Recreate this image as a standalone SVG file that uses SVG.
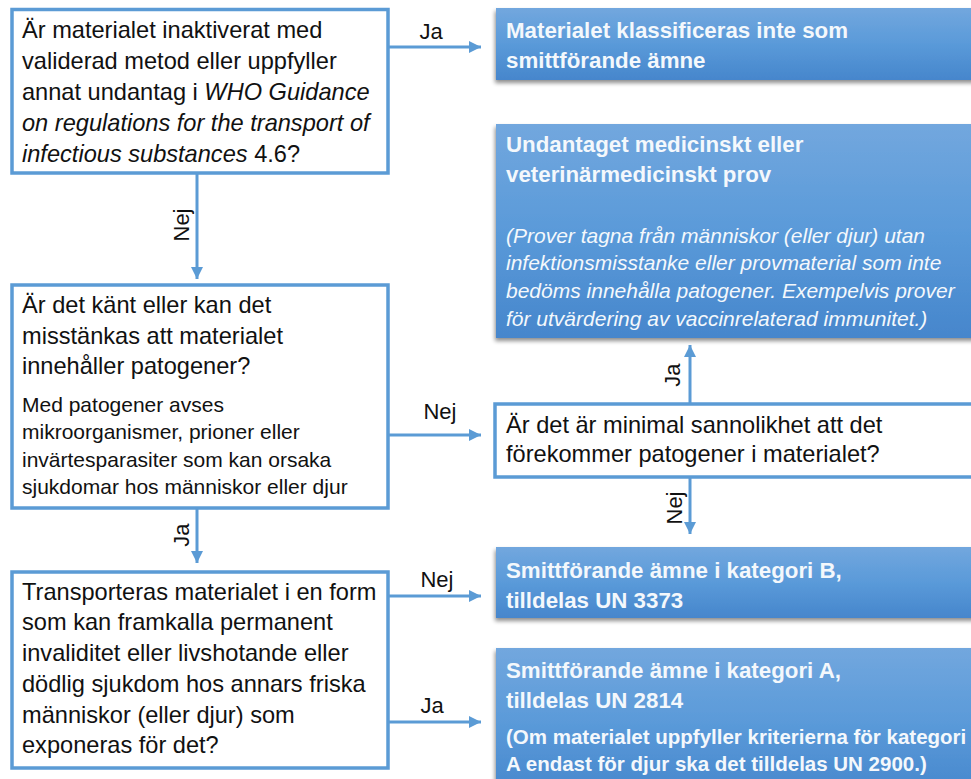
<svg xmlns="http://www.w3.org/2000/svg" width="971" height="779" viewBox="0 0 971 779">
<style>
.q{fill:#fff;stroke:#5b9bd5;stroke-width:3.5}
.r{fill:url(#g);filter:url(#sh)}
.t{font-family:"Liberation Sans",Arial,sans-serif;font-size:23.6px;fill:#111}
.s{font-family:"Liberation Sans",Arial,sans-serif;font-size:21px;fill:#111}
.w{font-family:"Liberation Sans",Arial,sans-serif;font-size:22.3px;font-weight:bold;fill:#f4f8fc}
.wi{font-family:"Liberation Sans",Arial,sans-serif;font-size:21px;font-style:italic;fill:#f4f8fc}
.ws{font-family:"Liberation Sans",Arial,sans-serif;font-size:20.5px;font-weight:bold;fill:#f4f8fc}
.l{font-family:"Liberation Sans",Arial,sans-serif;font-size:22px;fill:#111}
.c{fill:none;stroke:#5b9bd5;stroke-width:3;marker-end:url(#a)}
</style>
<defs>
<linearGradient id="g" x1="0" y1="0" x2="0" y2="1">
<stop offset="0" stop-color="#72a7de"/>
<stop offset="0.5" stop-color="#5a9ad9"/>
<stop offset="1" stop-color="#4686cc"/>
</linearGradient>
<filter id="sh" x="-5%" y="-10%" width="110%" height="130%">
<feGaussianBlur in="SourceAlpha" stdDeviation="2"/>
<feOffset dx="-1" dy="3" result="b"/>
<feComponentTransfer><feFuncA type="linear" slope="0.45"/></feComponentTransfer>
<feMerge><feMergeNode/><feMergeNode in="SourceGraphic"/></feMerge>
</filter>
<marker id="a" viewBox="0 0 12 12" refX="12" refY="6" markerWidth="12" markerHeight="12" markerUnits="userSpaceOnUse" orient="auto">
<path d="M0,0 L12,6 L0,12 Z" fill="#5b9bd5"/>
</marker>
</defs>

<g id="q1">
<rect class="q" x="12" y="9.5" width="376" height="163.5"/>
<text class="t" x="22" y="38">Är materialet inaktiverat med</text>
<text class="t" x="22" y="69">validerad metod eller uppfyller</text>
<text class="t" x="22" y="100">annat undantag i <tspan font-style="italic">WHO Guidance</tspan></text>
<text class="t" x="22" y="131" font-style="italic">on regulations for the transport of</text>
<text class="t" x="22" y="162"><tspan font-style="italic">infectious substances</tspan> 4.6?</text>
</g>

<g id="r1">
<rect class="r" x="496" y="8" width="490" height="72"/>
<text class="w" x="506" y="38">Materialet klassificeras inte som</text>
<text class="w" x="506" y="68">smittförande ämne</text>
</g>

<g id="r2">
<rect class="r" x="496" y="124" width="490" height="214"/>
<text class="w" x="506" y="152">Undantaget medicinskt eller</text>
<text class="w" x="506" y="182">veterinärmedicinskt prov</text>
<text class="wi" x="506" y="243">(Prover tagna från människor (eller djur) utan</text>
<text class="wi" x="506" y="270">infektionsmisstanke eller provmaterial som inte</text>
<text class="wi" x="506" y="298">bedöms innehålla patogener. Exempelvis prover</text>
<text class="wi" x="506" y="326">för utvärdering av vaccinrelaterad immunitet.)</text>
</g>

<g id="q2">
<rect class="q" x="12" y="285" width="376" height="223"/>
<text class="t" x="22" y="313">Är det känt eller kan det</text>
<text class="t" x="22" y="344">misstänkas att materialet</text>
<text class="t" x="22" y="374">innehåller patogener?</text>
<text class="s" x="22" y="412">Med patogener avses</text>
<text class="s" x="22" y="439">mikroorganismer, prioner eller</text>
<text class="s" x="22" y="467">invärtesparasiter som kan orsaka</text>
<text class="s" x="22" y="494">sjukdomar hos människor eller djur</text>
</g>

<g id="q3">
<rect class="q" x="495" y="404" width="490" height="73"/>
<text class="t" x="506" y="433">Är det är minimal sannolikhet att det</text>
<text class="t" x="506" y="462">förekommer patogener i materialet?</text>
</g>

<g id="r3">
<rect class="r" x="496" y="547" width="490" height="71"/>
<text class="w" x="506" y="578">Smittförande ämne i kategori B,</text>
<text class="w" x="506" y="608">tilldelas UN 3373</text>
</g>

<g id="r4">
<rect class="r" x="496" y="648" width="490" height="150"/>
<text class="w" x="506" y="678">Smittförande ämne i kategori A,</text>
<text class="w" x="506" y="708">tilldelas UN 2814</text>
<text class="ws" x="506" y="744">(Om materialet uppfyller kriterierna för kategori</text>
<text class="ws" x="506" y="771">A endast för djur ska det tilldelas UN 2900.)</text>
</g>

<g id="q4">
<rect class="q" x="12" y="572" width="376" height="196"/>
<text class="t" x="22" y="600">Transporteras materialet i en form</text>
<text class="t" x="22" y="630">som kan framkalla permanent</text>
<text class="t" x="22" y="661">invaliditet eller livshotande eller</text>
<text class="t" x="22" y="692">dödlig sjukdom hos annars friska</text>
<text class="t" x="22" y="723">människor (eller djur) som</text>
<text class="t" x="22" y="753">exponeras för det?</text>
</g>

<g id="connectors">
<path class="c" d="M389,47 H481"/>
<text class="l" x="431" y="39" text-anchor="middle">Ja</text>
<path class="c" d="M197,174 V279"/>
<text class="l" transform="translate(189,225) rotate(-90)" text-anchor="middle">Nej</text>
<path class="c" d="M389,435 H481"/>
<text class="l" x="440" y="419" text-anchor="middle">Nej</text>
<path class="c" d="M690,403 V345"/>
<text class="l" transform="translate(680,375) rotate(-90)" text-anchor="middle">Ja</text>
<path class="c" d="M690,478 V534"/>
<text class="l" transform="translate(682,508) rotate(-90)" text-anchor="middle">Nej</text>
<path class="c" d="M197,509 V563"/>
<text class="l" transform="translate(189,535) rotate(-90)" text-anchor="middle">Ja</text>
<path class="c" d="M389,596 H481"/>
<text class="l" x="437" y="587" text-anchor="middle">Nej</text>
<path class="c" d="M389,722 H481"/>
<text class="l" x="432" y="713" text-anchor="middle">Ja</text>
</g>
</svg>
